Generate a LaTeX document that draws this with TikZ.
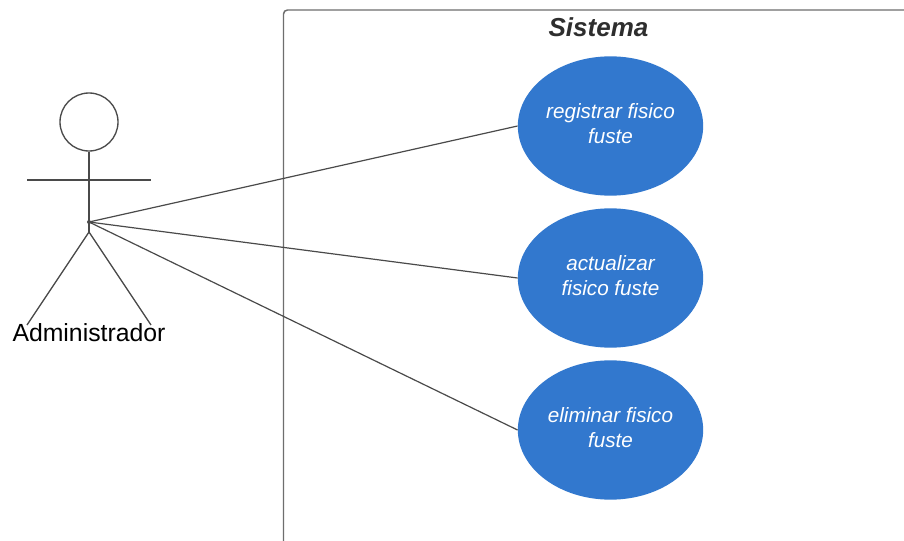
\documentclass[tikz,border=0pt]{standalone}
\usepackage{fontspec}
\setmainfont{Liberation Sans}
\usetikzlibrary{shapes.geometric}
\definecolor{ublue}{HTML}{3278CE}
\definecolor{uline}{HTML}{4A4A4A}
\definecolor{uframe}{HTML}{6E6E6E}
\definecolor{utitle}{HTML}{2E2E2E}
\tikzset{x=0.75pt,y=-0.75pt,
 usecase/.style={ellipse,fill=ublue,draw=none,minimum width=139pt,minimum height=104.5pt,inner sep=0pt},
 uctext/.style={inner sep=0pt,text=white,align=center,font=\fontsize{15.5}{18.8}\selectfont\itshape},
 actorline/.style={draw=uline,line width=1pt},
 assoc/.style={draw=uline,line width=0.9pt}}
\begin{document}
\begin{tikzpicture}
\useasboundingbox[fill=white] (0,0) rectangle (904,541);
\draw[draw=uframe,line width=1.1pt,rounded corners=3pt] (283.5,541) -- (283.5,10) -- (904,10);
\node[font=\fontsize{19.5}{23}\selectfont\bfseries\itshape,text=utitle] (title) at (598.5,27.5) {Sistema};
\node[usecase] (u1) at (610.5,126) {};
\node[usecase] (u2) at (610.5,278) {};
\node[usecase] (u3) at (610.5,430) {};
\node[uctext] (t1) at ([yshift=1.5pt]u1.center) {registrar fisico\\fuste};
\node[uctext] (t2) at ([yshift=1.5pt]u2.center) {actualizar\\fisico fuste};
\node[uctext] (t3) at ([yshift=1.5pt]u3.center) {eliminar fisico\\fuste};
\node[circle,draw=uline,line width=1pt,minimum size=43.5pt,inner sep=0pt] (head) at (89,122) {};
\coordinate (hip) at (89,222);
\coordinate (crotch) at (89,232);
\coordinate (armL) at (27,180);
\coordinate (armR) at (151,180);
\coordinate (legL) at (27,325);
\coordinate (legR) at (151,325);
\draw[actorline] (head.south) -- (crotch);
\draw[actorline] (armL) -- (armR);
\draw[actorline] (legL) -- (crotch) -- (legR);
\node[font=\fontsize{18.6}{22}\selectfont,text=black] (actor) at (89,333) {Administrador};
\draw[assoc] (hip) -- (u1.west);
\draw[assoc] (hip) -- (u2.west);
\draw[assoc] (hip) -- (u3.west);
\fill[uline] (hip) circle (2);
\end{tikzpicture}
\end{document}
